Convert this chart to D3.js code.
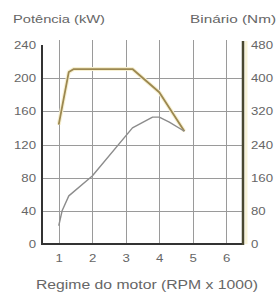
<!DOCTYPE html>
<html>
<head>
<meta charset="utf-8">
<script src="https://cdn.jsdelivr.net/npm/d3@7"></script>
<style>
  body { margin: 0; background: #fff; }
  text { font-family: "Liberation Sans", "DejaVu Sans", sans-serif; fill: #666; }
</style>
</head>
<body>
<svg width="279" height="294"></svg>
<script>
// data
const rpmTicks = [1, 2, 3, 4, 5, 6];
const powerTicks = [0, 40, 80, 120, 160, 200, 240];
const torqueTicks = [0, 80, 160, 240, 320, 400, 480];

// power curve (kW) vs rpm x 1000
const powerRpm = [1.0, 1.1, 1.3, 2.0, 3.2, 3.8, 4.0, 4.3, 4.75];
const powerKw = [22, 40, 58, 82, 140, 153, 153, 147, 136];

// torque curve (Nm) vs rpm x 1000
const torqueRpm = [1.0, 1.3, 1.45, 3.2, 4.0, 4.75];
const torqueNm = [288, 415, 422, 422, 366, 272];

const svg = d3.select('svg');
const mLeft = 42, mRight = 243, mTop = 45, mBottom = 244;

const x = d3.scaleLinear().domain([0.5, 6.5]).range([mLeft, mRight]);
const yP = d3.scaleLinear().domain([0, 240]).range([mBottom, mTop]);
const yT = d3.scaleLinear().domain([0, 480]).range([mBottom, mTop]);

// grid
const grid = svg.append('g').attr('stroke', '#9a9a9a').attr('stroke-width', 1);
grid.selectAll('.v')
  .data(rpmTicks)
  .enter().append('line')
  .attr('x1', d => Math.round(x(d)) + 0.5)
  .attr('x2', d => Math.round(x(d)) + 0.5)
  .attr('y1', mTop - 5)
  .attr('y2', mBottom);
grid.selectAll('.h')
  .data(powerTicks.filter(d => d > 0 && d < 240))
  .enter().append('line')
  .attr('x1', mLeft)
  .attr('x2', mRight)
  .attr('y1', d => Math.round(yP(d)) + 0.5)
  .attr('y2', d => Math.round(yP(d)) + 0.5);

// axes (no tick marks, just labels)
const axL = d3.axisLeft(yP).tickValues(powerTicks).tickSize(0).tickPadding(6);
const axR = d3.axisRight(yT).tickValues(torqueTicks).tickSize(0).tickPadding(8);
const axB = d3.axisBottom(x).tickValues(rpmTicks).tickFormat(d3.format('d'))
  .tickSize(0).tickPadding(10);

// the picture's lettering is wide, so stretch the glyphs a bit
function widen(sel, k) {
  sel.each(function() {
    const w = this.getComputedTextLength();
    d3.select(this).attr('textLength', w * k).attr('lengthAdjust', 'spacingAndGlyphs');
  });
}
function styleAxis(g) {
  g.select('.domain').remove();
  g.selectAll('text').attr('font-size', 11).attr('fill', '#777')
    .attr('font-family', '"Liberation Sans", sans-serif');
  widen(g.selectAll('text'), 1.2);
}
svg.append('g').attr('transform', `translate(${mLeft},0)`).call(axL).call(styleAxis);
svg.append('g').attr('transform', `translate(${mRight},0)`).call(axR).call(styleAxis);
svg.append('g').attr('transform', `translate(0,${mBottom})`).call(axB).call(styleAxis);

// curves
const lineP = d3.line().x((d, i) => x(powerRpm[i])).y(d => yP(d));
const lineT = d3.line().x((d, i) => x(torqueRpm[i])).y(d => yT(d));

svg.append('path')
  .attr('d', lineT(torqueNm))
  .attr('fill', 'none')
  .attr('stroke', '#f7f0d2')
  .attr('stroke-width', 4)
  .attr('stroke-linejoin', 'round');
svg.append('path')
  .attr('d', lineT(torqueNm))
  .attr('fill', 'none')
  .attr('stroke', '#9c8850')
  .attr('stroke-width', 1.8)
  .attr('stroke-linejoin', 'round');
svg.append('path')
  .attr('d', lineP(powerKw))
  .attr('fill', 'none')
  .attr('stroke', '#8c8c8c')
  .attr('stroke-width', 1.4)
  .attr('stroke-linejoin', 'round');

// axis lines
svg.append('line')
  .attr('x1', mLeft).attr('x2', mLeft).attr('y1', mTop).attr('y2', mBottom + 1)
  .attr('stroke', '#333').attr('stroke-width', 2);
svg.append('line')
  .attr('x1', mLeft - 1).attr('x2', mRight + 1).attr('y1', mBottom).attr('y2', mBottom)
  .attr('stroke', '#333').attr('stroke-width', 2);
svg.append('line')
  .attr('x1', mRight + 3).attr('x2', mRight + 3).attr('y1', mTop - 4).attr('y2', mBottom)
  .attr('stroke', '#f8f3d8').attr('stroke-width', 3);
svg.append('line')
  .attr('x1', mRight).attr('x2', mRight).attr('y1', mTop - 4).attr('y2', mBottom + 1)
  .attr('stroke', '#4a4830').attr('stroke-width', 2.5);

// titles
svg.append('text').attr('x', 13).attr('y', 23).attr('font-size', 11)
  .attr('fill', '#666').attr('textLength', 92).attr('lengthAdjust', 'spacingAndGlyphs')
  .text('Potência (kW)');
svg.append('text').attr('x', 190).attr('y', 23).attr('font-size', 11)
  .attr('fill', '#666').attr('textLength', 86).attr('lengthAdjust', 'spacingAndGlyphs')
  .text('Binário (Nm)');
svg.append('text').attr('x', 36).attr('y', 289).attr('font-size', 12)
  .attr('fill', '#666').attr('textLength', 222).attr('lengthAdjust', 'spacingAndGlyphs')
  .text('Regime do motor (RPM x 1000)');
</script>
</body>
</html>
